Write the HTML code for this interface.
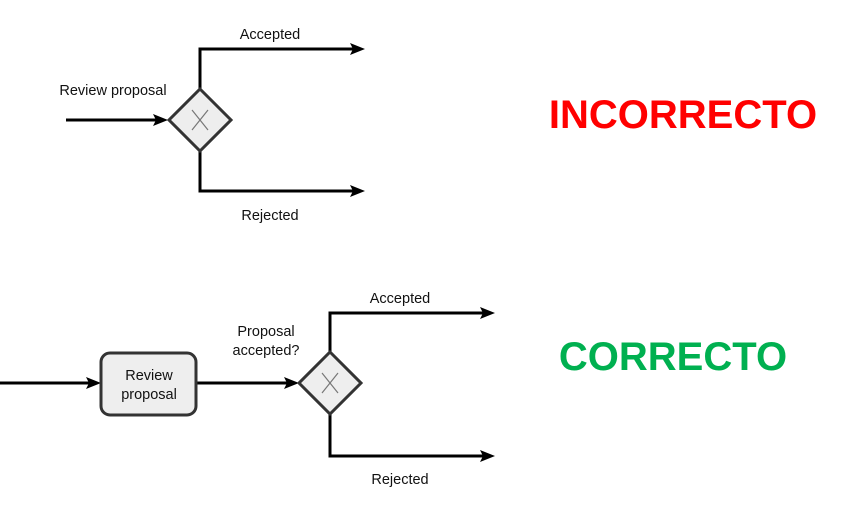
<!DOCTYPE html>
<html><head><meta charset="utf-8"><style>
body{margin:0;background:#fff;width:854px;height:517px;overflow:hidden}
svg{display:block}
text{font-family:"Liberation Sans",Arial,sans-serif}
</style></head><body>
<svg width="854" height="517" viewBox="0 0 854 517" xmlns="http://www.w3.org/2000/svg">
<g stroke="#000" stroke-width="3" fill="none">
<line x1="66" y1="120" x2="158" y2="120"/>
<polyline points="200,89 200,49 354,49"/>
<polyline points="200,151 200,191 354,191"/>
<line x1="0" y1="383" x2="90" y2="383"/>
<line x1="196" y1="383" x2="288" y2="383"/>
<polyline points="330,352 330,313 484,313"/>
<polyline points="330,414 330,456 484,456"/>
</g>
<g fill="#000">
<path d="M153,114 L168,120 L153,126 L156,120 Z"/>
<path d="M350,43 L365,49 L350,55 L353,49 Z"/>
<path d="M350,185 L365,191 L350,197 L353,191 Z"/>
<path d="M86,377 L101,383 L86,389 L89,383 Z"/>
<path d="M284,377 L299,383 L284,389 L287,383 Z"/>
<path d="M480,307 L495,313 L480,319 L483,313 Z"/>
<path d="M480,450 L495,456 L480,462 L483,456 Z"/>
</g>
<polygon points="200,89 231,120 200,151 169,120" fill="#eee" stroke="#333" stroke-width="3"/>
<path d="M192,110 L208,130 M208,110 L192,130" stroke="#777" stroke-width="1.2"/>
<polygon points="330,352 361,383 330,414 299,383" fill="#eee" stroke="#333" stroke-width="3"/>
<path d="M322,373 L338,393 M338,373 L322,393" stroke="#777" stroke-width="1.2"/>
<rect x="101" y="353" width="95" height="62" rx="9" fill="#eee" stroke="#333" stroke-width="3"/>
<g font-size="14.5" fill="#111" text-anchor="middle">
<text x="270" y="39">Accepted</text>
<text x="270" y="220">Rejected</text>
<text x="113" y="95">Review proposal</text>
<text x="400" y="303">Accepted</text>
<text x="400" y="484">Rejected</text>
<text x="266" y="336">Proposal</text>
<text x="266" y="355">accepted?</text>
<text x="149" y="380">Review</text>
<text x="149" y="399">proposal</text>
</g>
<text x="683" y="128" font-size="40" font-weight="bold" fill="#ff0000" text-anchor="middle">INCORRECTO</text>
<text x="673" y="370" font-size="40" font-weight="bold" fill="#00b050" text-anchor="middle">CORRECTO</text>
</svg>
</body></html>
